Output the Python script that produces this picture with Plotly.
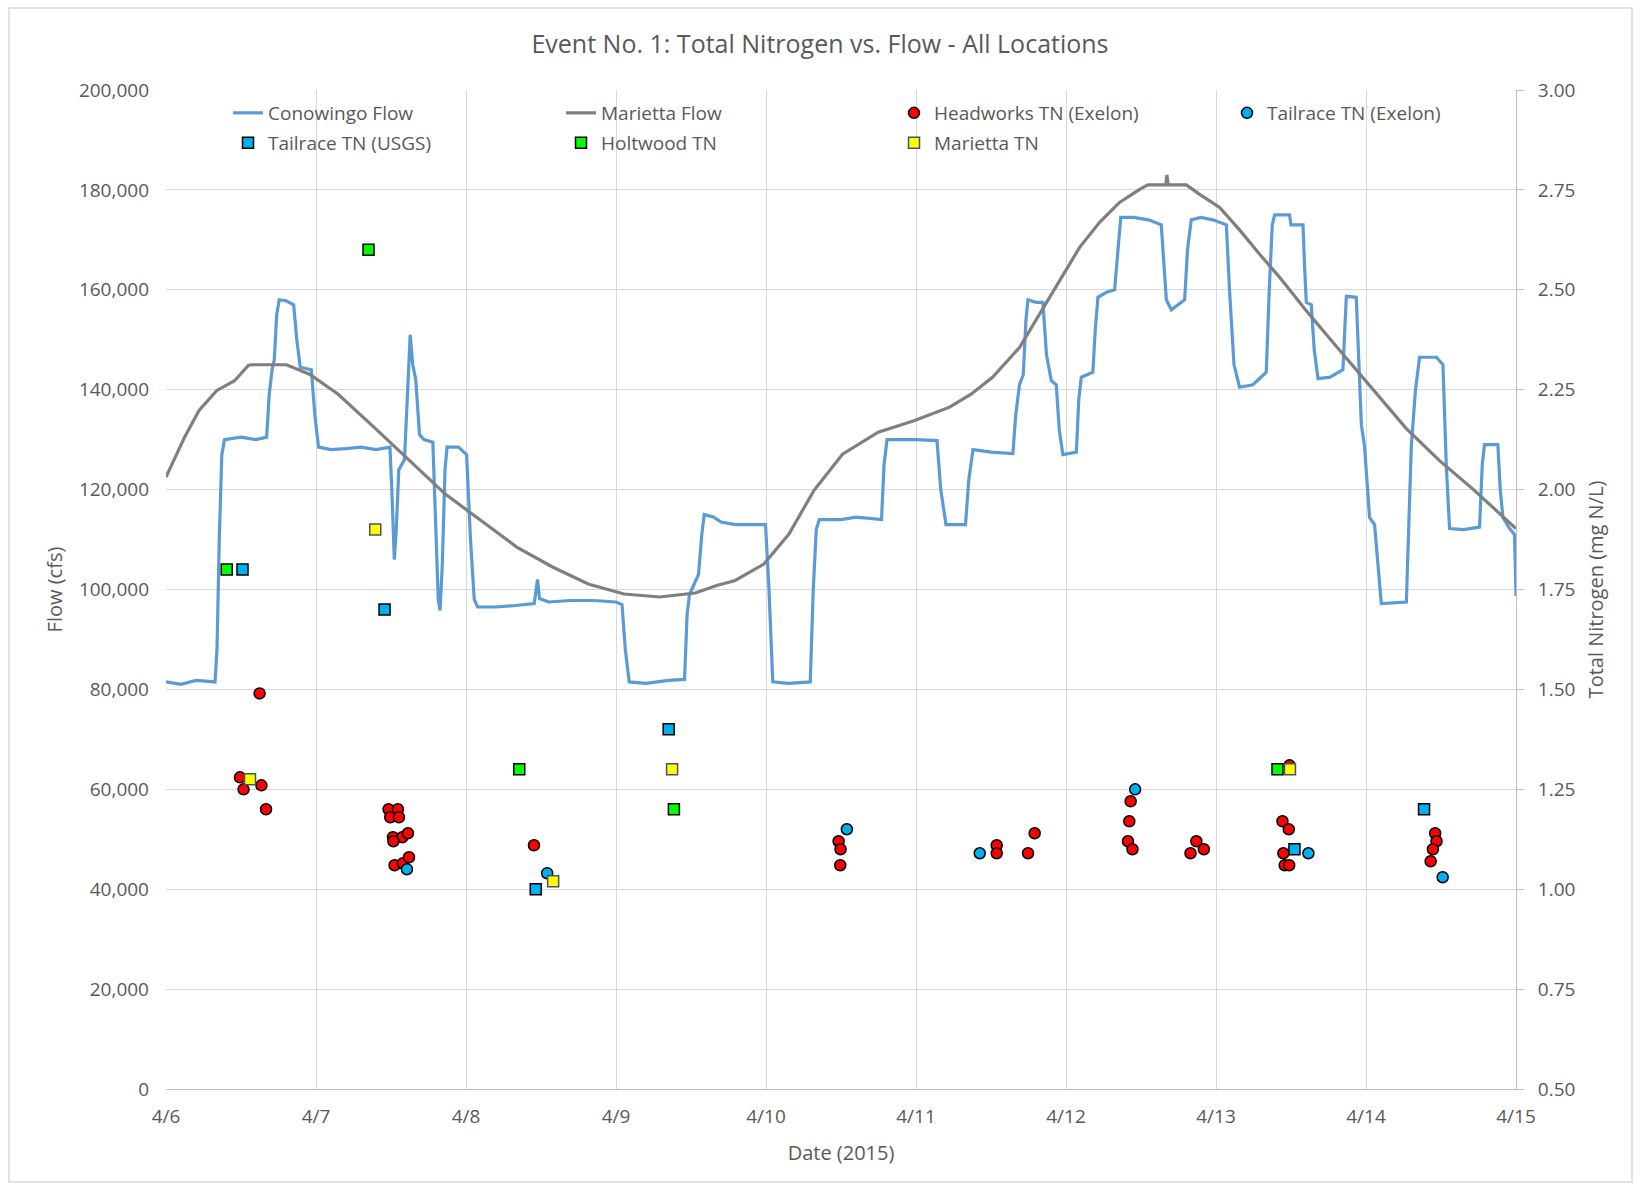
import pandas as pd
import plotly.graph_objects as go

# ---- Flow time series (days after 4/6/2015 00:00, flow in cfs) ----
conowingo_day = [
    0.000, 0.100, 0.200, 0.327, 0.340, 0.355, 0.372, 0.390, 0.500, 0.600, 0.671,
    0.688, 0.707, 0.722, 0.738, 0.755, 0.800, 0.851, 0.872, 0.895, 0.969,
    0.992, 1.017, 1.100, 1.200, 1.300, 1.400, 1.493, 1.508, 1.522, 1.535, 1.552, 1.590,
    1.612, 1.628, 1.645, 1.665, 1.690, 1.719, 1.779, 1.800, 1.815, 1.827, 1.842, 1.860,
    1.874, 1.950, 2.004, 2.030, 2.055, 2.077, 2.200, 2.330, 2.455, 2.470, 2.477, 2.490,
    2.550, 2.700, 2.850, 3.000, 3.040, 3.062, 3.088, 3.200, 3.350, 3.457, 3.474, 3.490,
    3.550, 3.572, 3.588, 3.650, 3.700, 3.795, 3.900, 3.997, 4.020, 4.045, 4.150, 4.295,
    4.315, 4.335, 4.355, 4.500, 4.600, 4.770, 4.787, 4.807, 5.000, 5.140, 5.165, 5.200,
    5.330, 5.352, 5.380, 5.500, 5.646, 5.665, 5.690, 5.715, 5.733, 5.746, 5.800, 5.846,
    5.870, 5.902, 5.935, 5.955, 5.979, 6.069, 6.085, 6.102, 6.179, 6.195, 6.213, 6.270,
    6.324, 6.345, 6.365, 6.450, 6.550, 6.635, 6.652, 6.669, 6.702, 6.750, 6.791, 6.810,
    6.835, 6.900, 6.979, 7.069, 7.090, 7.120, 7.157, 7.246, 7.300, 7.335, 7.355, 7.375,
    7.391, 7.490, 7.500, 7.580, 7.590, 7.602, 7.635, 7.655, 7.680, 7.760, 7.846, 7.858,
    7.869, 7.935, 7.952, 7.969, 7.990, 8.024, 8.057, 8.080, 8.102, 8.269, 8.285, 8.302,
    8.330, 8.357, 8.469, 8.513, 8.535, 8.557, 8.650, 8.757, 8.775, 8.790, 8.879, 8.895,
    8.913, 8.957, 8.990, 9.000,
]
conowingo_cfs = [
    81500, 81000, 81800, 81500, 88000, 110000, 127000, 130000, 130500, 130000, 130500,
    139000, 144000, 146000, 155000, 158000, 157800, 157000, 150000, 144500, 144000,
    135000, 128500, 128000, 128200, 128500, 128000, 128500, 118000, 106000, 112000, 124000, 126000,
    140000, 151000, 145000, 142000, 131000, 130000, 129500, 112000, 98000, 95800, 105000, 124000,
    128500, 128500, 127000, 110000, 98000, 96500, 96500, 96800, 97200, 100500, 102000, 98200,
    97500, 97800, 97800, 97500, 97000, 88000, 81500, 81200, 81800, 82000, 95000, 99000,
    103000, 111000, 115000, 114500, 113500, 113000, 113000, 113000, 100000, 81500, 81200, 81500,
    100000, 112000, 114000, 114000, 114500, 114000, 125000, 130000, 130000, 129800, 120000, 113000,
    113000, 122000, 128000, 127500, 127200, 135000, 141000, 143000, 154000, 158000, 157500, 157500,
    147000, 141800, 141000, 132000, 127000, 127500, 138000, 142500, 143500, 152000, 158500, 159500,
    160000, 168000, 174500, 174500, 174000, 173000, 165000, 158000, 156000, 157000, 158000, 168000,
    174000, 174500, 174000, 173000, 160000, 145000, 140500, 141000, 142500, 143500, 160000, 173000,
    175000, 175000, 173000, 173000, 165000, 157500, 157000, 148000, 142200, 142500, 144000, 152000,
    158700, 158500, 145000, 133000, 128700, 114400, 113000, 105000, 97200, 97500, 115000, 128700,
    140000, 146500, 146500, 145000, 125000, 112200, 112000, 112500, 125000, 129000, 129000, 120000,
    114400, 112200, 111000, 98700,
]

marietta_day = [
    0.000, 0.124, 0.219, 0.337, 0.457, 0.550, 0.577, 0.803, 0.957, 1.148, 1.386, 1.624,
    1.862, 2.100, 2.338, 2.577, 2.815, 3.053, 3.291, 3.529, 3.671, 3.795, 3.986, 4.153,
    4.319, 4.510, 4.748, 4.986, 5.224, 5.367, 5.510, 5.691, 5.824, 5.957, 6.091, 6.224,
    6.357, 6.491, 6.546, 6.665, 6.673, 6.681, 6.802, 6.891, 7.024, 7.157, 7.291, 7.424,
    7.557, 7.602, 7.824, 8.046, 8.269, 8.490, 8.713, 9.000,
]
marietta_cfs = [
    122500, 130500, 135800, 139800, 141800, 144900, 145000, 145000, 143100, 139100, 132500, 125800,
    119100, 113800, 108500, 104500, 101100, 99100, 98500, 99300, 100800, 101800, 105100, 111100,
    119800, 127100, 131500, 133800, 136500, 139100, 142500, 148500, 155100, 161800, 168500, 173500,
    177500, 180100, 181000, 181000, 183000, 181000, 181000, 179100, 176500, 172000, 167100, 162500,
    157500, 155800, 147900, 140100, 132200, 125800, 120100, 112200,
]

# ---- Total nitrogen samples (days after 4/6/2015, mg N/L) ----
headworks_day = [
    0.493, 0.517, 0.624, 0.636, 0.667,
    1.484, 1.546, 1.495, 1.553, 1.513, 1.575, 1.613, 1.516, 1.524, 1.580, 1.620,
    2.453,
    4.484, 4.497, 4.495,
    5.538, 5.538, 5.747, 5.791,
    6.431, 6.422, 6.413, 6.443,
    6.830, 6.869, 6.919,
    7.490, 7.443, 7.485, 7.449, 7.458, 7.488,
    8.461, 8.470, 8.446, 8.431,
]
headworks_tn = [
    1.28, 1.25, 1.49, 1.26, 1.20,
    1.20, 1.20, 1.18, 1.18, 1.13, 1.13, 1.14, 1.12, 1.06, 1.065, 1.08,
    1.11,
    1.12, 1.10, 1.06,
    1.11, 1.09, 1.09, 1.14,
    1.22, 1.17, 1.12, 1.10,
    1.09, 1.12, 1.10,
    1.31, 1.17, 1.15, 1.09, 1.06, 1.06,
    1.14, 1.12, 1.10, 1.07,
]

tailrace_exelon_day = [1.606, 2.541, 4.539, 5.425, 6.461, 7.616, 8.511]
tailrace_exelon_tn = [1.05, 1.04, 1.15, 1.09, 1.25, 1.09, 1.03]

tailrace_usgs_day = [0.510, 1.457, 2.465, 3.351, 7.523, 8.387]
tailrace_usgs_tn = [1.80, 1.70, 1.00, 1.40, 1.10, 1.20]

holtwood_day = [0.405, 1.350, 2.355, 3.386, 7.410]
holtwood_tn = [1.80, 2.60, 1.30, 1.20, 1.30]

marietta_tn_day = [0.560, 1.395, 2.581, 3.374, 7.493]
marietta_tn = [1.275, 1.90, 1.02, 1.30, 1.30]

START = pd.Timestamp("2015-04-06")


def to_time(days):
    return START + pd.to_timedelta(days, unit="D")


TEXT = "#595959"
GRID = "#D9D9D9"
FONT = "Open Sans"

fig = go.Figure()

fig.add_trace(go.Scatter(
    x=to_time(conowingo_day), y=conowingo_cfs, mode="lines", name="Conowingo Flow",
    line=dict(color="#5B9BD5", width=3.2), legend="legend",
))
fig.add_trace(go.Scatter(
    x=to_time(marietta_day), y=marietta_cfs, mode="lines", name="Marietta Flow",
    line=dict(color="#7F7F7F", width=3.2), legend="legend",
))


def tn_trace(days, vals, name, symbol, color, legend, outline="#000000"):
    return go.Scatter(
        x=to_time(days), y=vals, mode="markers", name=name, yaxis="y2",
        marker=dict(symbol=symbol, size=11, color=color,
                    line=dict(color=outline, width=1.5)),
        legend=legend,
    )


fig.add_trace(tn_trace(headworks_day, headworks_tn, "Headworks TN (Exelon)",
                       "circle", "#FF0000", "legend"))
fig.add_trace(tn_trace(tailrace_exelon_day, tailrace_exelon_tn, "Tailrace TN (Exelon)",
                       "circle", "#00B0F0", "legend"))
fig.add_trace(tn_trace(tailrace_usgs_day, tailrace_usgs_tn, "Tailrace TN (USGS)",
                       "square", "#00B0F0", "legend2"))
fig.add_trace(tn_trace(holtwood_day, holtwood_tn, "Holtwood TN",
                       "square", "#00FF00", "legend2"))
fig.add_trace(tn_trace(marietta_tn_day, marietta_tn, "Marietta TN",
                       "square", "#FFFF00", "legend2", outline="#44546A"))

legend_common = dict(
    orientation="h", xanchor="left", yanchor="middle",
    bgcolor="rgba(0,0,0,0)", font=dict(family=FONT, size=19, color=TEXT),
    entrywidth=288, entrywidthmode="pixels", itemclick=False,
)

fig.update_layout(
    width=1640, height=1191,
    margin=dict(l=166, r=124, t=90, b=102),
    paper_bgcolor="white", plot_bgcolor="white",
    font=dict(family=FONT, color=TEXT),
    title=dict(
        text="Event No. 1: Total Nitrogen vs. Flow - All Locations",
        x=0.5, xref="container", xanchor="center",
        y=1 - 44 / 1191, yref="container", yanchor="middle",
        font=dict(family=FONT, size=25, color=TEXT),
    ),
    xaxis=dict(
        type="date", range=["2015-04-06", "2015-04-15"],
        dtick=86400000, tick0="2015-04-06", tickformat="%-m/%-d",
        showgrid=True, gridcolor=GRID, gridwidth=1,
        showline=True, linecolor="#BFBFBF", linewidth=1,
        ticks="", tickfont=dict(family=FONT, size=19, color=TEXT),
        ticklabelstandoff=10,
        title=dict(text="Date (2015)", font=dict(family=FONT, size=20, color=TEXT),
                   standoff=18),
        zeroline=False,
    ),
    yaxis=dict(
        range=[0, 200000], dtick=20000, tickformat=",d",
        showgrid=True, gridcolor=GRID, gridwidth=1,
        showline=False, zeroline=False, ticks="",
        tickfont=dict(family=FONT, size=19, color=TEXT),
        ticklabelstandoff=16,
        title=dict(text="Flow (cfs)", font=dict(family=FONT, size=20, color=TEXT),
                   standoff=10),
    ),
    yaxis2=dict(
        range=[0.5, 3.0], dtick=0.25, tickformat=".2f",
        overlaying="y", side="right", showgrid=False, zeroline=False,
        showline=True, linecolor="#BFBFBF", linewidth=1,
        ticks="outside", ticklen=7, tickcolor="#BFBFBF",
        tickfont=dict(family=FONT, size=19, color=TEXT),
        ticklabelstandoff=10,
        title=dict(text="Total Nitrogen (mg N/L)",
                   font=dict(family=FONT, size=20, color=TEXT), standoff=14),
    ),
    legend=dict(x=(228 - 166) / 1350, y=1 - (113 - 90) / 999, **legend_common),
    legend2=dict(x=(228 - 166) / 1350, y=1 - (143 - 90) / 999, **legend_common),
    shapes=[dict(
        type="rect", xref="paper", yref="paper",
        x0=(9 - 166) / 1350, x1=(1632 - 166) / 1350,
        y0=(1089 - 1182) / 999, y1=1 + (90 - 8) / 999,
        line=dict(color=GRID, width=1.5), fillcolor="rgba(0,0,0,0)", layer="below",
    )],
    showlegend=True,
)

fig.write_html("out.html")
